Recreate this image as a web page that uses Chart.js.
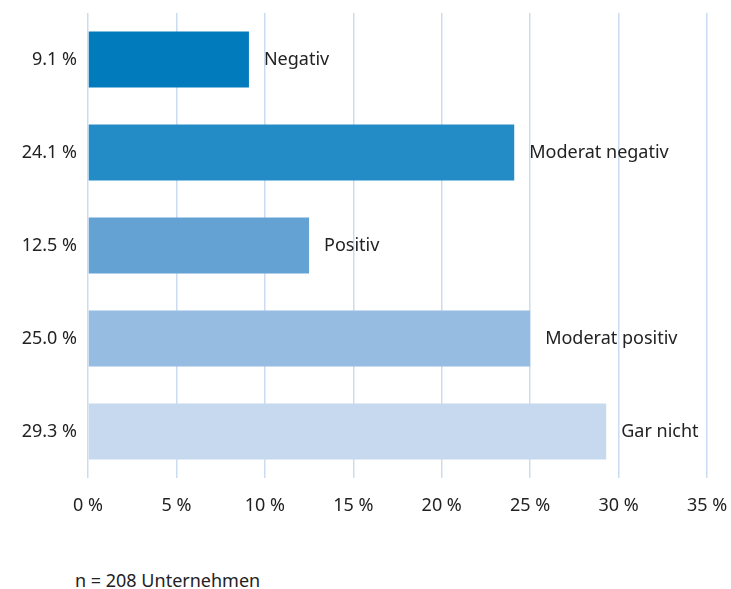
<!DOCTYPE html>
<html lang="de">
<head>
  <meta charset="UTF-8">
  <title>Auswirkung</title>
  <script src="https://cdn.jsdelivr.net/npm/chart.js"></script>
  <style>
    body { margin: 0; background: #fff; font-family: "Noto Sans", sans-serif; }
    #wrap { position: relative; width: 731px; height: 589px; }
    #note { position: absolute; left: 75px; top: 570px; font-size: 18px; line-height: 20px; color: #222; }
  </style>
</head>
<body>
  <div id="wrap">
    <div style="width: 731px; height: 530px;">
      <canvas id="barChart"></canvas>
    </div>
    <div id="note">n = 208 Unternehmen</div>
  </div>

  <script>
    // Daten
    const categories = ['Negativ', 'Moderat negativ', 'Positiv', 'Moderat positiv', 'Gar nicht'];
    const shares = [9.1, 24.1, 12.5, 25.0, 29.3];
    const barColors = ['#027bbd', '#238cc7', '#64a2d4', '#96bce2', '#c6d9ef'];
    const xTicks = [0, 5, 10, 15, 20, 25, 30, 35];

    // Kategorienamen rechts neben die Balken schreiben
    const nameLabels = {
      id: 'nameLabels',
      afterDatasetsDraw(chart) {
        const ctx = chart.ctx;
        const meta = chart.getDatasetMeta(0);
        ctx.save();
        ctx.font = '18px "Noto Sans", sans-serif';
        ctx.fillStyle = '#222';
        ctx.textBaseline = 'middle';
        meta.data.forEach((bar, i) => {
          ctx.fillText(categories[i], bar.x + 15, bar.y);
        });
        ctx.restore();
      }
    };

    const ctx = document.getElementById('barChart').getContext('2d');
    new Chart(ctx, {
      type: 'bar',
      data: {
        labels: shares.map(v => v.toFixed(1) + ' %'),
        datasets: [{
          data: shares,
          backgroundColor: barColors,
          barPercentage: 0.6,
          categoryPercentage: 1.0
        }]
      },
      options: {
        indexAxis: 'y',
        responsive: true,
        maintainAspectRatio: false,
        animation: false,
        layout: { padding: { top: 13, right: 24, left: 0, bottom: 0 } },
        plugins: {
          legend: { display: false },
          tooltip: { enabled: false }
        },
        scales: {
          x: {
            min: 0,
            max: 35,
            afterBuildTicks: axis => { axis.ticks = xTicks.map(v => ({ value: v })); },
            afterFit: axis => {
              axis.height = 52;
              axis.paddingLeft = 0;
              axis.paddingRight = 0;
            },
            grid: { color: '#cbdcf0', lineWidth: 1.5, drawTicks: false },
            border: { display: false },
            ticks: {
              padding: 17,
              color: '#222',
              font: { size: 18, family: '"Noto Sans", sans-serif' },
              callback: v => v + ' %'
            }
          },
          y: {
            afterFit: axis => {
              axis.width = 88;
              axis.paddingTop = 0;
              axis.paddingBottom = 0;
            },
            grid: { display: false, drawTicks: false },
            border: { display: false },
            ticks: {
              padding: 11,
              color: '#222',
              font: { size: 18, family: '"Noto Sans", sans-serif' }
            }
          }
        }
      },
      plugins: [nameLabels]
    });
  </script>
</body>
</html>
